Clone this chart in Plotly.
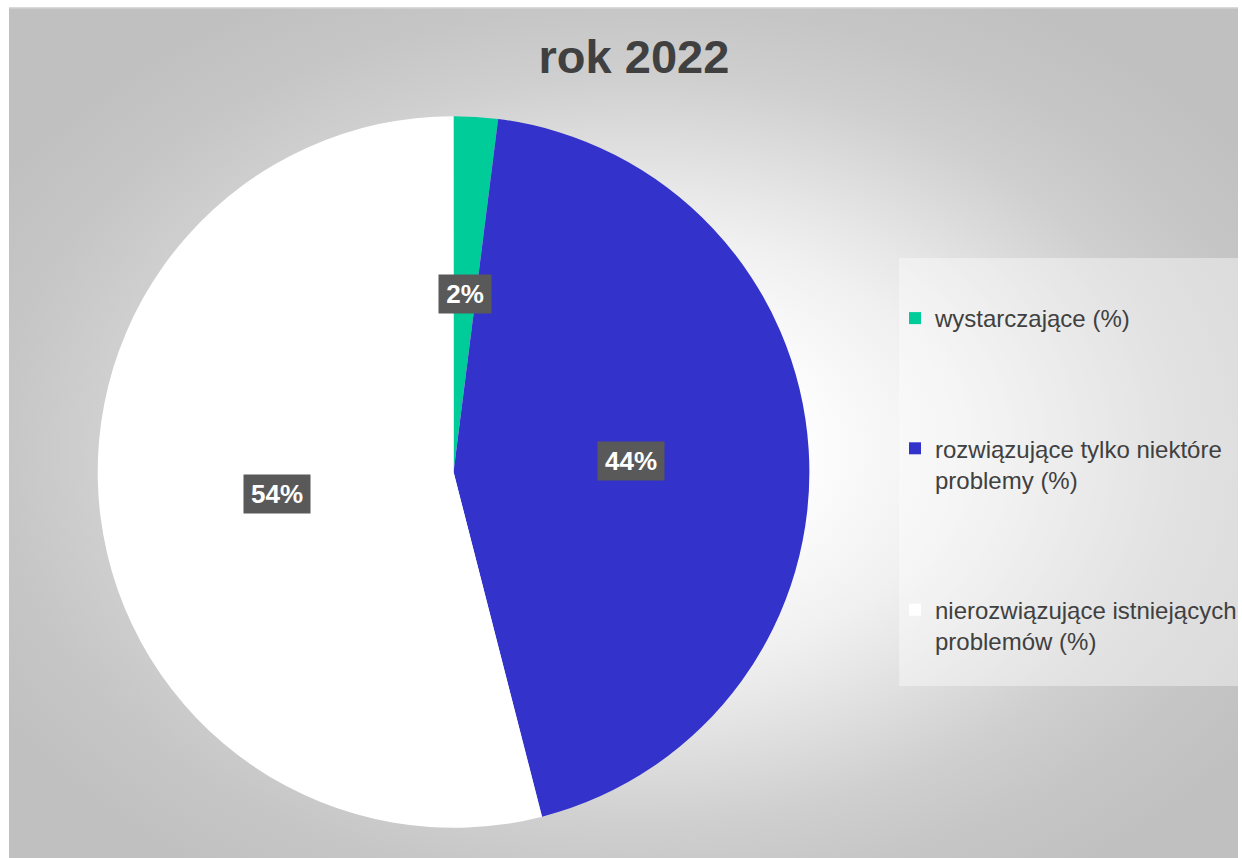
import base64
import math
import plotly.graph_objects as go

# ---- data ----
categories = [
    "wystarczające (%)",
    "rozwiązujące tylko niektóre<br>problemy (%)",
    "nierozwiązujące istniejących<br>problemów (%)",
]
values = [2, 44, 54]
label_texts = ["2%", "44%", "54%"]
colors = ["#00CC99", "#3333CC", "#FFFFFF"]
title_text = "rok 2022"

W, H = 1242, 858
FONT = "Liberation Sans, Arial, sans-serif"

# pie geometry (pixels)
CX, CY, R = 455, 472, 357
dom_x = [(CX - R) / W, (CX + R) / W]
dom_y = [1 - (CY + R) / H, 1 - (CY - R) / H]

# background gradient (chart area) as svg image
AX, AY = 9, 7
AW, AH = W - AX, H - AY
GX, GY = 640 - AX, 450 - AY
svg = (
    f'<svg xmlns="http://www.w3.org/2000/svg" width="{AW}" height="{AH}" viewBox="0 0 {AW} {AH}" preserveAspectRatio="none">'
    '<defs><radialGradient id="g" gradientUnits="userSpaceOnUse" cx="0" cy="0" r="520" '
    f'gradientTransform="translate({GX},{GY}) scale(1.45,1)">'
    '<stop offset="0.2" stop-color="#ffffff"/>'
    '<stop offset="0.42" stop-color="#f0f0f0"/>'
    '<stop offset="0.5" stop-color="#e8e8e8"/>'
    '<stop offset="0.72" stop-color="#cfcfcf"/>'
    '<stop offset="0.85" stop-color="#c6c6c6"/>'
    '<stop offset="1" stop-color="#c0c0c0"/>'
    '</radialGradient></defs>'
    f'<rect x="0" y="0" width="{AW}" height="{AH}" fill="url(#g)"/>'
    f'<line x1="0" y1="0.75" x2="{AW}" y2="0.75" stroke="#d9d9d9" stroke-width="1.5"/></svg>'
)
svg_uri = "data:image/svg+xml;base64," + base64.b64encode(svg.encode("utf-8")).decode("ascii")

fig = go.Figure()

fig.add_trace(go.Pie(
    labels=categories,
    values=values,
    marker=dict(colors=colors, line=dict(width=0)),
    sort=False,
    direction="clockwise",
    rotation=0,
    textinfo="none",
    hoverinfo="label+percent",
    showlegend=False,
    domain=dict(x=dom_x, y=dom_y),
))

# legend entries
for i, (cat, col) in enumerate(zip(categories, colors)):
    fig.add_trace(go.Scatter(
        x=[None], y=[None], mode="markers", name=cat,
        legendgroup=f"g{i}",
        marker=dict(symbol="square", size=12, color=col, line=dict(width=0)),
        hoverinfo="skip",
    ))

# data labels placed at slice mid-angles
LBL = 26
def text_w(s):
    return sum((0.889 if ch == "%" else 0.556) * LBL for ch in s)

total = sum(values)
cum = 0
annotations = []
for v, t in zip(values, label_texts):
    mid = (cum + v / 2) / total * 2 * math.pi
    cum += v
    rl = 0.5 * R
    px = CX + rl * math.sin(mid)
    py = CY - rl * math.cos(mid)
    annotations.append(dict(
        x=px / W, y=1 - py / H, xref="paper", yref="paper",
        text=f"<b>{t}</b>", showarrow=False,
        font=dict(family=FONT, size=LBL, color="#FFFFFF"),
        bgcolor="#595959", width=round(text_w(t) + 10), height=34, borderpad=2,
        xanchor="center", yanchor="middle",
    ))

fig.update_layout(
    width=W, height=H,
    margin=dict(l=0, r=0, t=0, b=0),
    paper_bgcolor="#FFFFFF",
    plot_bgcolor="rgba(0,0,0,0)",
    xaxis=dict(visible=False, range=[0, 1]),
    yaxis=dict(visible=False, range=[0, 1]),
    title=dict(
        text=f"<b>{title_text}</b>",
        font=dict(family=FONT, size=47, color="#404040"),
        x=636 / W, xanchor="center", xref="paper",
        y=1 - 57 / H, yanchor="middle", yref="paper",
    ),
    legend=dict(
        x=898 / W, xanchor="left",
        y=1 - 296 / H, yanchor="top",
        bgcolor="rgba(0,0,0,0)",
        font=dict(family=FONT, size=24, color="#404040"),
        tracegroupgap=96,
        valign="top",
        itemwidth=30,
    ),
    images=[dict(
        source=svg_uri, xref="paper", yref="paper",
        x=AX / W, y=1 - AY / H, sizex=1.0 - AX / W, sizey=1.0 - AY / H,
        xanchor="left", yanchor="top", sizing="stretch", layer="below",
    )],
    shapes=[dict(
        type="rect", xref="paper", yref="paper",
        x0=902 / W, x1=1.0, y0=1 - 686 / H, y1=1 - 258 / H,
        fillcolor="rgba(255,255,255,0.4)", line=dict(width=0), layer="below",
    )],
    annotations=annotations,
    font=dict(family=FONT),
)

fig.write_html(
    "out.html",
    config={"displayModeBar": False},
    post_script=(
        "document.documentElement.style.overflow='hidden';"
        "document.body.style.margin='0';document.body.style.overflow='hidden';"
    ),
)
